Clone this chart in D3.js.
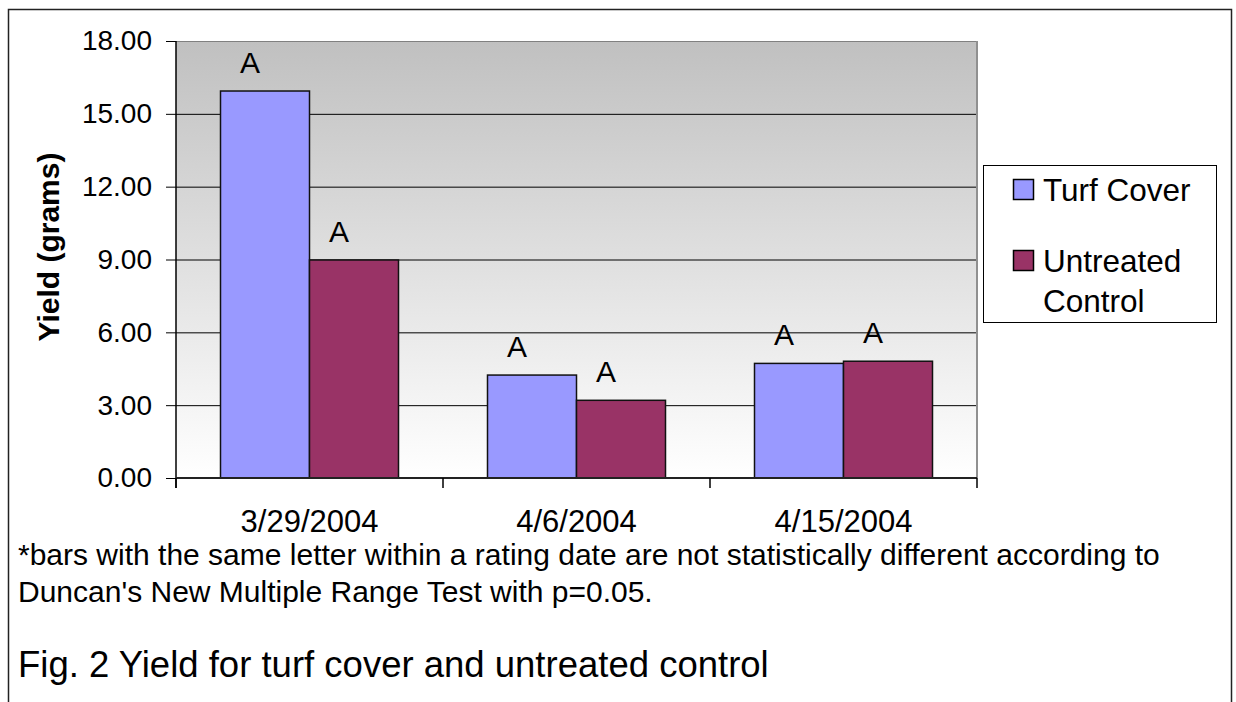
<!DOCTYPE html>
<html>
<head>
<meta charset="utf-8">
<script src="https://cdn.jsdelivr.net/npm/d3@7"></script>
<style>
  body { margin: 0; background: #fff; }
  svg { display: block; font-family: "Liberation Sans", Arial, sans-serif; }
</style>
</head>
<body>
<div id="chart"></div>
<script>
// chart data
const dates = ["3/29/2004", "4/6/2004", "4/15/2004"];
const seriesNames = ["Turf Cover", "Untreated Control"];
const turfCover = [15.94, 4.24, 4.72];
const untreated = [8.98, 3.20, 4.81];
const turfLetters = ["A", "A", "A"];
const untreatedLetters = ["A", "A", "A"];
const yTicks = [0, 3, 6, 9, 12, 15, 18];
const colors = ["#9999ff", "#993366"];

const W = 1236, H = 702;
const plot = { left: 176, right: 977, top: 41, bottom: 478 };

const svg = d3.select("#chart").append("svg")
  .attr("width", W).attr("height", H);

// outer frame
svg.append("rect")
  .attr("x", 8.5).attr("y", 9.5)
  .attr("width", 1223).attr("height", 720)
  .attr("fill", "none").attr("stroke", "#222").attr("stroke-width", 1.5);

// gradient background
const defs = svg.append("defs");
const grad = defs.append("linearGradient")
  .attr("id", "bg").attr("x1", 0).attr("y1", 0).attr("x2", 0).attr("y2", 1);
grad.append("stop").attr("offset", "0%").attr("stop-color", "#c0c0c0");
grad.append("stop").attr("offset", "100%").attr("stop-color", "#ffffff");

svg.append("rect")
  .attr("x", plot.left).attr("y", plot.top)
  .attr("width", plot.right - plot.left).attr("height", plot.bottom - plot.top)
  .attr("fill", "url(#bg)");

// scales
const x0 = d3.scaleBand().domain(dates).range([plot.left, plot.right]);
const x1 = d3.scaleBand().domain(seriesNames).range([0, x0.bandwidth()]).paddingOuter(0.5);
const y = d3.scaleLinear().domain([0, 18]).range([plot.bottom, plot.top]);

// gridlines
svg.append("g").selectAll("line")
  .data(yTicks.filter(d => d > 0))
  .join("line")
  .attr("x1", plot.left).attr("x2", plot.right)
  .attr("y1", d => y(d) + 0.5).attr("y2", d => y(d) + 0.5)
  .attr("stroke", d => d === 18 ? "#808080" : "#000")
  .attr("stroke-width", 1);

// right border of plot
svg.append("line")
  .attr("x1", plot.right).attr("x2", plot.right)
  .attr("y1", plot.top).attr("y2", plot.bottom)
  .attr("stroke", "#909090").attr("stroke-width", 2);

// bars
const rows = dates.map((d, i) => ({
  date: d,
  vals: [
    { key: seriesNames[0], value: turfCover[i], letter: turfLetters[i], c: colors[0] },
    { key: seriesNames[1], value: untreated[i], letter: untreatedLetters[i], c: colors[1] }
  ]
}));

const groups = svg.append("g").selectAll("g")
  .data(rows)
  .join("g")
  .attr("transform", d => "translate(" + x0(d.date) + ",0)");

groups.selectAll("rect")
  .data(d => d.vals)
  .join("rect")
  .attr("x", d => x1(d.key))
  .attr("y", d => y(d.value))
  .attr("width", x1.bandwidth())
  .attr("height", d => y(0) - y(d.value))
  .attr("fill", d => d.c)
  .attr("stroke", "#111")
  .attr("stroke-width", 1.5);

groups.selectAll("text")
  .data(d => d.vals)
  .join("text")
  .attr("x", d => x1(d.key) + x1.bandwidth() / 2 - 15)
  .attr("y", d => y(d.value) - 18)
  .attr("text-anchor", "middle")
  .attr("font-size", 30)
  .text(d => d.letter);

// y axis
const yAxis = svg.append("g")
  .attr("transform", "translate(" + plot.left + ",0)")
  .call(d3.axisLeft(y).tickValues(yTicks).tickFormat(d3.format(".2f")).tickSize(10).tickPadding(14));
yAxis.select(".domain").remove();
yAxis.selectAll("text").attr("font-size", 28).attr("fill", "#000").attr("font-family", "Liberation Sans, Arial, sans-serif");
yAxis.selectAll("line").attr("stroke", "#000");

svg.append("line")
  .attr("x1", plot.left).attr("x2", plot.left)
  .attr("y1", plot.top).attr("y2", plot.bottom + 10)
  .attr("stroke", "#000").attr("stroke-width", 1.5);

// x axis
const xAxis = svg.append("g")
  .attr("transform", "translate(0," + plot.bottom + ")")
  .call(d3.axisBottom(x0).tickSize(0).tickPadding(32));
xAxis.select(".domain").remove();
xAxis.selectAll("text").attr("font-size", 31).attr("fill", "#000").attr("font-family", "Liberation Sans, Arial, sans-serif");

svg.append("line")
  .attr("x1", plot.left).attr("x2", plot.right)
  .attr("y1", plot.bottom).attr("y2", plot.bottom)
  .attr("stroke", "#222").attr("stroke-width", 2);

svg.append("g").selectAll("line")
  .data(dates.map(d => x0(d)).concat([plot.right]))
  .join("line")
  .attr("x1", d => d).attr("x2", d => d)
  .attr("y1", plot.bottom).attr("y2", plot.bottom + 10)
  .attr("stroke", "#000").attr("stroke-width", 1.5);

// y title
svg.append("text")
  .attr("transform", "translate(59,247) rotate(-90)")
  .attr("text-anchor", "middle")
  .attr("font-size", 30).attr("font-weight", "bold")
  .text("Yield (grams)");

// legend
const lg = svg.append("g");
lg.append("rect")
  .attr("x", 983.5).attr("y", 165.5).attr("width", 233).attr("height", 157)
  .attr("fill", "#fff").attr("stroke", "#000").attr("stroke-width", 1);
const legendRows = [
  { name: ["Turf Cover"], c: colors[0], sy: 179 },
  { name: ["Untreated", "Control"], c: colors[1], sy: 250 }
];
legendRows.forEach(r => {
  lg.append("rect")
    .attr("x", 1013.5).attr("y", r.sy + 0.5).attr("width", 20).attr("height", 20)
    .attr("fill", r.c).attr("stroke", "#000").attr("stroke-width", 1.5);
  r.name.forEach((t, j) => {
    lg.append("text")
      .attr("x", 1043).attr("y", r.sy + 22 + j * 40)
      .attr("font-size", 31.5)
      .text(t);
  });
});

// footnote and caption
svg.append("text").attr("x", 18).attr("y", 565).attr("font-size", 30)
  .text("*bars with the same letter within a rating date are not statistically different according to");
svg.append("text").attr("x", 18).attr("y", 602).attr("font-size", 30)
  .text("Duncan's New Multiple Range Test with p=0.05.");
svg.append("text").attr("x", 18).attr("y", 677).attr("font-size", 36.5)
  .text("Fig. 2 Yield for turf cover and untreated control");
</script>
</body>
</html>
